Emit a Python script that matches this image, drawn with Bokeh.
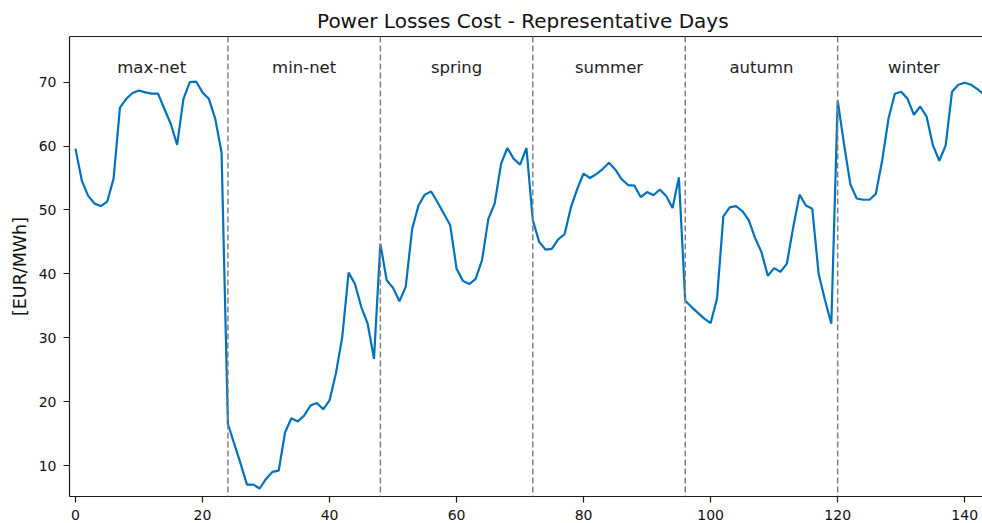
from bokeh.plotting import figure
from bokeh.models import Range1d, LinearAxis, FixedTicker, Span, ColumnDataSource
from bokeh.core.properties import value
from bokeh.embed import file_html
from bokeh.resources import INLINE

# ---- data ----
max_net = [59.6, 54.6, 52.2, 51.0, 50.6, 51.3, 54.9, 66.0, 67.4, 68.3, 68.7, 68.4,
           68.2, 68.2, 65.8, 63.5, 60.2, 67.4, 70.0, 70.1, 68.4, 67.4, 64.3, 59.0]
min_net = [16.5, 13.4, 10.3, 7.0, 7.0, 6.4, 7.9, 9.0, 9.2, 15.2, 17.4, 16.9,
           17.8, 19.4, 19.8, 18.8, 20.2, 24.4, 30.1, 40.2, 38.4, 34.8, 32.2, 26.7]
spring = [44.7, 39.0, 37.8, 35.7, 38.0, 47.0, 50.7, 52.4, 52.9, 51.2, 49.4, 47.6,
          40.8, 38.9, 38.4, 39.2, 42.1, 48.6, 51.0, 57.2, 59.7, 58.0, 57.1, 59.7]
summer = [48.4, 45.0, 43.8, 43.9, 45.4, 46.2, 50.4, 53.3, 55.7, 55.0, 55.6, 56.4,
          57.4, 56.3, 54.8, 53.9, 53.8, 52.0, 52.8, 52.3, 53.2, 52.2, 50.3, 55.1]
autumn = [35.8, 34.8, 33.9, 33.0, 32.3, 36.1, 49.0, 50.4, 50.6, 49.8, 48.4, 45.6,
          43.4, 39.7, 40.9, 40.3, 41.6, 47.3, 52.4, 50.7, 50.2, 40.0, 35.9, 32.2]
winter = [67.1, 60.3, 54.0, 51.8, 51.6, 51.6, 52.5, 57.7, 64.3, 68.2, 68.5, 67.4,
          64.9, 66.2, 64.6, 60.1, 57.7, 60.1, 68.5, 69.6, 69.9, 69.6, 68.9, 68.1]

cost = max_net + min_net + spring + summer + autumn + winter
hour = list(range(len(cost)))

day_names = ["max-net", "min-net", "spring", "summer", "autumn", "winter"]
day_centers = [12, 36, 60, 84, 108, 132]
day_bounds = [24, 48, 72, 96, 120]
label_y = [72.3] * len(day_names)

x_ticks = [0, 20, 40, 60, 80, 100, 120, 140]
y_ticks = [10, 20, 30, 40, 50, 60, 70]

FONT = "DejaVu Sans"
AX = "#1a1a1a"

p = figure(frame_width=913, frame_height=460,
           x_range=Range1d(-0.94, 142.8), y_range=Range1d(5.15, 77.15),
           output_backend="svg", toolbar_location=None,
           min_border_left=69, min_border_right=0,
           min_border_top=36, min_border_bottom=27,
           x_axis_location=None, y_axis_location=None)

p.title.text = "Power Losses Cost  - Representative Days"
p.title.align = "center"
p.title.text_font = FONT
p.title.text_font_size = "20px"
p.title.text_font_style = "normal"
p.title.text_color = "#111111"
p.title.standoff = 7

p.outline_line_color = None
p.xgrid.visible = False
p.ygrid.visible = False
p.background_fill_color = "white"
p.border_fill_color = "white"


def style_axis(ax):
    ax.axis_line_color = AX
    ax.axis_line_width = 1.2
    ax.major_tick_line_color = AX
    ax.major_tick_line_width = 1.2
    ax.major_tick_out = 6
    ax.major_tick_in = 0
    ax.minor_tick_line_color = None
    ax.major_label_text_font = FONT
    ax.major_label_text_font_size = "14px"
    ax.major_label_text_color = "#111111"
    ax.major_label_standoff = 7


xa = LinearAxis(ticker=FixedTicker(ticks=x_ticks))
style_axis(xa)
p.add_layout(xa, "below")

ya = LinearAxis(ticker=FixedTicker(ticks=y_ticks), axis_label="[EUR/MWh]")
style_axis(ya)
ya.axis_label_text_font = FONT
ya.axis_label_text_font_size = "17.5px"
ya.axis_label_text_font_style = "normal"
ya.axis_label_text_color = "#111111"
ya.axis_label_standoff = 6
p.add_layout(ya, "left")

top = LinearAxis(ticker=FixedTicker(ticks=[]))
top.axis_line_color = AX
top.axis_line_width = 1.2
top.major_tick_line_color = None
top.minor_tick_line_color = None
top.major_label_text_font_size = "0px"
p.add_layout(top, "above")

for b in day_bounds:
    p.add_layout(Span(location=b, dimension="height", line_color="#808080",
                      line_width=1.5, line_dash="6 3"))

p.line(hour, cost, line_color="#0072BD", line_width=2.2)

src = ColumnDataSource(dict(x=day_centers, y=label_y, t=day_names))
p.text(x="x", y="y", text="t", source=src, text_align="center",
       text_baseline="middle", text_font=value(FONT), text_font_size="16.5px",
       text_color="#222222")

open("out.html", "w").write(file_html(p, INLINE))
